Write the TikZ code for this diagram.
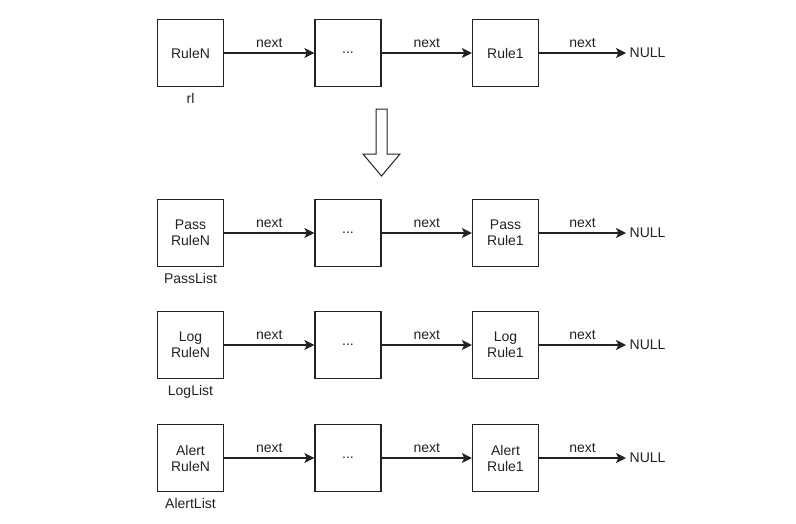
\documentclass[tikz,border=0pt]{standalone}
\usepackage{fontspec}
\setmainfont{Liberation Sans}
\usetikzlibrary{arrows.meta, positioning}
\definecolor{inkgray}{HTML}{222222}

\begin{document}
\begin{tikzpicture}[
    x=1pt, y=-1pt,
    every node/.style={font=\fontsize{14}{16}\selectfont, text=inkgray},
    rbox/.style={draw=inkgray, line width=1.3pt, minimum width=66pt, minimum height=67pt, align=center, inner sep=0pt},
    nlink/.style={-{Stealth[length=10pt, width=10pt, inset=2.5pt]}, line width=1.2pt, draw=inkgray},
    nulltxt/.style={anchor=west, inner sep=3.5pt},
    lbl/.style={inner sep=0pt},
]

\useasboundingbox (0,0) rectangle (796,523);

% Original list
\node[rbox] (rn) at (190.5,53) {RuleN};
\node[rbox] (rdots) at (348,53) {...};
\node[rbox] (r1) at (505.5,53) {Rule1};
\node[nulltxt] (rnull) at (626,53) {NULL};
\node[lbl, below=6pt of rn] (rl) {rl};

\draw[nlink] (rn) -- node[above=5pt, lbl] {next} (rdots);
\draw[nlink] (rdots) -- node[above=5pt, lbl] {next} (r1);
\draw[nlink] (r1) -- node[above=5pt, lbl] {next} (rnull);

% Split arrow
\draw[draw=inkgray, line width=1pt, fill=white]
    (376,109) -- (387,109) -- (387,154) -- (400,154) -- (381.5,176)
    -- (363,154) -- (376,154) -- cycle;

% Split lists
\foreach \nm/\kind/\yy in {pass/Pass/233, log/Log/345, alert/Alert/458} {
    \node[rbox] (\nm n) at (190.5,\yy) {\kind\\RuleN};
    \node[rbox] (\nm dots) at (348,\yy) {...};
    \node[rbox] (\nm 1) at (505.5,\yy) {\kind\\Rule1};
    \node[nulltxt] (\nm null) at (626,\yy) {NULL};
    \node[lbl, below=6pt of \nm n] (\nm list) {\kind List};

    \draw[nlink] (\nm n) -- node[above=5pt, lbl] {next} (\nm dots);
    \draw[nlink] (\nm dots) -- node[above=5pt, lbl] {next} (\nm 1);
    \draw[nlink] (\nm 1) -- node[above=5pt, lbl] {next} (\nm null);
}

\end{tikzpicture}
\end{document}
